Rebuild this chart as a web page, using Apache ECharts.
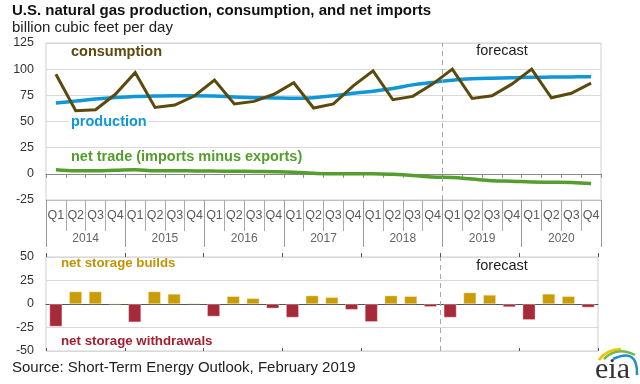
<!DOCTYPE html>
<html>
<head>
<meta charset="utf-8">
<script src="https://cdn.jsdelivr.net/npm/echarts@6/dist/echarts.min.js"></script>
<style>
html,body{margin:0;padding:0;background:#fff;}
#chart{width:640px;height:384px;}
</style>
</head>
<body>
<div id="chart"></div>
<script>
// ---- data ----
const years = ['2014','2015','2016','2017','2018','2019','2020'];
const quarters = ['Q1','Q2','Q3','Q4'];
const forecastStartYear = '2019';
const consumption = [95.2,60.3,61.3,76, 96.8,63.5,65.7,74.6, 89.5,66.7,69.2,76, 87,62.9,66.8,84, 98.4,70.8,74,85.7, 100,72,74.6,85.7, 100,72.7,77,86.7];
const production = [67.6,69.5,71.5,73, 74,74.3,74.5,74.5, 74.3,73.5,72.8,72.5, 72.2,72.8,74.5,77, 79,81.6,85,87.3, 89.5,90.8,91.4,91.7, 92.2,92.4,92.6,92.7];
const netTrade = [4,3,3,3.5, 4,3,3,2.8, 2.6,2.5,2.3,2, 1.5,0.5,0,0, 0,-0.5,-1.5,-3, -3.5,-5,-6.5,-7, -7.8,-8,-8.2,-9.3];
const storageChange = [-23.9,13.2,13.2,0.3, -19.3,13.2,10.7,0.7, -13.2,8.2,6,-4.6, -14.3,8.9,7.1,-6, -18.9,8.9,8.2,-2.9, -14.3,12.1,9.6,-3.2, -16.8,10.7,8.2,-3.6];
const topTicks = [-25,0,25,50,75,100,125];
const bottomTicks = [-50,-25,0,25,50];

// ---- derived ----
const categories = [];
years.forEach(y => quarters.forEach(q => categories.push(y + ' ' + q)));
const qLabels = categories.map(c => c.split(' ')[1]);
const builds = storageChange.map(v => v >= 0 ? v : '-');
const withdrawals = storageChange.map(v => v < 0 ? v : '-');
const forecastIdx = years.indexOf(forecastStartYear) * quarters.length;

const C = {
  cons: '#5B4A0C', prod: '#0F97D8', trade: '#559D2D',
  build: '#C99C08', withdraw: '#A52A3A'
};
const FONT = '"Liberation Sans", Arial, sans-serif';

const chart = echarts.init(document.getElementById('chart'), null, {renderer: 'canvas'});

const dashedMark = {
  silent: true, symbol: ['none','none'],
  lineStyle: {type: [5,4], color: '#a8a8a8', width: 1},
  label: {show: false},
  data: [{xAxis: forecastIdx}]
};

const option = {
  animation: false,
  textStyle: {fontFamily: FONT},
  grid: [
    {left: 46, right: 39, top: 43, height: 157, show: true, borderColor: '#cfcfcf', borderWidth: 1},
    {left: 46, right: 42, top: 257, height: 94, show: true, borderColor: '#cfcfcf', borderWidth: 1}
  ],
  xAxis: [
    {gridIndex: 0, type: 'category', data: categories, boundaryGap: true,
     axisLine: {onZero: true, lineStyle: {color: '#8a8a8a', width: 1}},
     axisTick: {show: true, length: 4, interval: 0, lineStyle: {color: '#8a8a8a'}},
     axisLabel: {show: false}, splitLine: {show: false}},
    {gridIndex: 0, type: 'category', data: qLabels, position: 'bottom', boundaryGap: true,
     axisLine: {onZero: false, lineStyle: {color: '#bdbdbd'}},
     axisTick: {show: true, length: 31, interval: 0, lineStyle: {color: '#a9a9a9'}},
     axisLabel: {show: true, interval: 0, margin: 9, fontSize: 12.5, color: '#5a5a5a', fontFamily: FONT},
     splitLine: {show: false}},
    {gridIndex: 0, type: 'category', data: years, position: 'bottom', boundaryGap: true,
     axisLine: {onZero: false, show: false},
     axisTick: {show: true, length: 47, interval: 0, lineStyle: {color: '#9a9a9a'}},
     axisLabel: {show: true, interval: 0, margin: 33, fontSize: 12, color: '#666', fontFamily: FONT},
     splitLine: {show: false}},
    {gridIndex: 0, type: 'value', min: 0, max: categories.length, show: false},
    {gridIndex: 1, type: 'category', data: categories, boundaryGap: true,
     axisLine: {onZero: true, lineStyle: {color: '#555', width: 1}},
     axisTick: {show: false}, axisLabel: {show: false}, splitLine: {show: false}},
    {gridIndex: 1, type: 'category', data: years, boundaryGap: true,
     axisLine: {onZero: true, show: false},
     axisTick: {show: true, length: 4, interval: 0, lineStyle: {color: '#555'}},
     axisLabel: {show: false}, splitLine: {show: false}},
    {gridIndex: 1, type: 'category', data: years, boundaryGap: true, position: 'bottom',
     axisLine: {onZero: true, show: false},
     axisTick: {show: true, inside: true, length: 3, interval: 0, lineStyle: {color: '#555'}},
     axisLabel: {show: false}, splitLine: {show: false}},
    {gridIndex: 1, type: 'value', min: 0, max: categories.length, show: false}
  ],
  yAxis: [
    {gridIndex: 0, type: 'value', min: topTicks[0], max: topTicks[topTicks.length-1], interval: 25,
     axisLine: {show: false}, axisTick: {show: false},
     axisLabel: {fontSize: 12.5, color: '#333', margin: 12, fontFamily: FONT},
     splitLine: {show: true, lineStyle: {color: '#d9d9d9', width: 1}}},
    {gridIndex: 1, type: 'value', min: bottomTicks[0], max: bottomTicks[bottomTicks.length-1], interval: 25,
     axisLine: {show: false}, axisTick: {show: false},
     axisLabel: {fontSize: 12.5, color: '#333', margin: 12, fontFamily: FONT},
     splitLine: {show: true, lineStyle: {color: '#d9d9d9', width: 1}}}
  ],
  series: [
    {name: 'forecastTop', type: 'line', xAxisIndex: 3, yAxisIndex: 0, data: [], markLine: dashedMark, silent: true},
    {name: 'forecastBottom', type: 'line', xAxisIndex: 7, yAxisIndex: 1, data: [], markLine: dashedMark, silent: true},
    {name: 'net trade', type: 'line', xAxisIndex: 0, yAxisIndex: 0, data: netTrade, smooth: 0.4,
     symbol: 'none', lineStyle: {color: C.trade, width: 3.5}, z: 3},
    {name: 'production', type: 'line', xAxisIndex: 0, yAxisIndex: 0, data: production, smooth: 0.4,
     symbol: 'none', lineStyle: {color: C.prod, width: 3.5}, z: 3},
    {name: 'consumption', type: 'line', xAxisIndex: 0, yAxisIndex: 0, data: consumption,
     symbol: 'none', lineStyle: {color: C.cons, width: 3, join: 'miter'}, z: 4},
    {name: 'builds', type: 'bar', xAxisIndex: 4, yAxisIndex: 1, data: builds, stack: 'st',
     barWidth: '64%', itemStyle: {color: C.build, borderColor: 'rgba(255,240,200,0.8)', borderWidth: 0.5}},
    {name: 'withdrawals', type: 'bar', xAxisIndex: 4, yAxisIndex: 1, data: withdrawals, stack: 'st',
     barWidth: '64%', itemStyle: {color: C.withdraw, borderColor: 'rgba(255,220,220,0.8)', borderWidth: 0.5}}
  ],
  graphic: [
    {type: 'text', left: 12, top: 3, style: {text: 'U.S. natural gas production, consumption, and net imports', font: 'bold 15px ' + FONT, fill: '#111'}},
    {type: 'text', left: 12, top: 20, style: {text: 'billion cubic feet per day', font: '15px ' + FONT, fill: '#222'}},
    {type: 'text', x: 71, y: 51.5, z: 100, style: {text: 'consumption', font: 'bold 14.5px ' + FONT, fill: C.cons, textVerticalAlign: 'middle'}},
    {type: 'text', x: 69, y: 122, z: 100, style: {text: 'production', font: 'bold 14.5px ' + FONT, fill: C.prod, textVerticalAlign: 'middle', backgroundColor: '#fff', padding: [0, 2, 0, 2]}},
    {type: 'text', x: 71, y: 157, z: 100, style: {text: 'net trade (imports minus exports)', font: 'bold 14.5px ' + FONT, fill: C.trade, textVerticalAlign: 'middle'}},
    {type: 'text', x: 502, y: 50.5, z: 100, style: {text: 'forecast', font: '14.5px ' + FONT, fill: '#222', textAlign: 'center', textVerticalAlign: 'middle'}},
    {type: 'text', x: 61, y: 263, z: 100, style: {text: 'net storage builds', font: 'bold 13.3px ' + FONT, fill: '#C09405', textVerticalAlign: 'middle'}},
    {type: 'text', x: 61, y: 341.5, z: 100, style: {text: 'net storage withdrawals', font: 'bold 13.3px ' + FONT, fill: '#A21F30', textVerticalAlign: 'middle'}},
    {type: 'text', x: 502, y: 265.5, z: 100, style: {text: 'forecast', font: '14.5px ' + FONT, fill: '#222', textAlign: 'center', textVerticalAlign: 'middle'}},
    {type: 'text', x: 12, y: 368, style: {text: 'Source: Short-Term Energy Outlook, February 2019', font: '15px ' + FONT, fill: '#222', textVerticalAlign: 'middle'}},
    // eia logo
    {type: 'text', x: 595, y: 385, style: {text: 'eia', font: '30px "Liberation Serif", "DejaVu Serif", serif', fill: '#333', textVerticalAlign: 'bottom'}},
    {type: 'bezierCurve', shape: {x1: 599, y1: 360, cpx1: 605, cpy1: 350, x2: 621, y2: 349}, style: {stroke: '#F2C200', lineWidth: 2.5, fill: null}},
    {type: 'bezierCurve', shape: {x1: 604, y1: 359, cpx1: 617, cpy1: 346, x2: 635, y2: 355}, style: {stroke: '#72B843', lineWidth: 2.5, fill: null}},
    {type: 'bezierCurve', shape: {x1: 613, y1: 359, cpx1: 638, cpy1: 347, x2: 637, y2: 375}, style: {stroke: '#1E8FD5', lineWidth: 2.5, fill: null}}
  ]
};
chart.setOption(option);
</script>
</body>
</html>
